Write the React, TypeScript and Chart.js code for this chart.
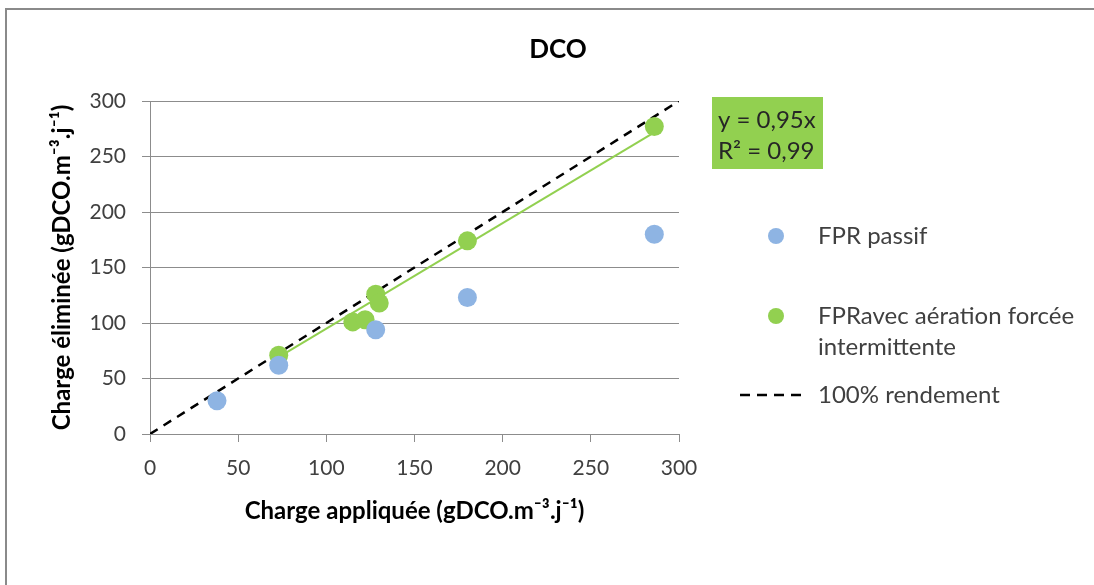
import React, { useEffect, useRef } from "react";
import { Chart, registerables } from "chart.js";

Chart.register(...registerables);

const passifX = [38, 73, 128, 180, 286];
const passifY = [30, 62, 94, 123, 180];
const aerationX = [73, 115, 122, 128, 130, 180, 286];
const aerationY = [71, 101, 103, 126, 118, 174, 277];
const trendSlope = 0.95;
const axisTicks = [0, 50, 100, 150, 200, 250, 300];
const chartTitle = "DCO";
const xTitle = "Charge appliquée (gDCO.m⁻³.j⁻¹)";
const yTitle = "Charge éliminée (gDCO.m⁻³.j⁻¹)";
const seriesNames = ["FPR passif", "FPRavec aération forcée", "intermittente", "100% rendement"];
const equationLines = ["y = 0,95x", "R² = 0,99"];

const FONT = "Lato, 'Open Sans', sans-serif";
const BLUE = "#8EB4E3";
const GREEN = "#92D050";
const TEXT = "#404040";

const decorPlugin = {
  id: "decor",
  beforeDraw(chart: any) {
    const ctx = chart.ctx;
    ctx.save();
    ctx.fillStyle = "#ffffff";
    ctx.fillRect(0, 0, chart.width, chart.height);
    ctx.strokeStyle = "#8a8a8a";
    ctx.lineWidth = 2;
    ctx.strokeRect(6, 9, chart.width + 20, chart.height + 20);
    ctx.restore();
  },
  afterDraw(chart: any) {
    const ctx = chart.ctx;
    ctx.save();
    // title
    ctx.fillStyle = "#000";
    ctx.font = `bold 26px ${FONT}`;
    ctx.textAlign = "center";
    ctx.textBaseline = "middle";
    ctx.fillText(chartTitle, 558, 50);

    // equation box
    ctx.fillStyle = GREEN;
    ctx.fillRect(712, 97, 111, 72);
    ctx.fillStyle = "#262626";
    ctx.font = `24px ${FONT}`;
    ctx.textAlign = "left";
    ctx.fillText(equationLines[0], 718, 120);
    ctx.fillText(equationLines[1], 718, 151);

    // legend
    ctx.font = `24px ${FONT}`;
    ctx.beginPath();
    ctx.arc(776, 236, 8, 0, Math.PI * 2);
    ctx.fillStyle = BLUE;
    ctx.fill();
    ctx.fillStyle = TEXT;
    ctx.fillText(seriesNames[0], 818, 236);

    ctx.beginPath();
    ctx.arc(776, 316, 8, 0, Math.PI * 2);
    ctx.fillStyle = GREEN;
    ctx.fill();
    ctx.fillStyle = TEXT;
    ctx.fillText(seriesNames[1], 818, 316);
    ctx.fillText(seriesNames[2], 818, 347);

    ctx.strokeStyle = "#000";
    ctx.lineWidth = 2.5;
    ctx.setLineDash([10, 7]);
    ctx.beginPath();
    ctx.moveTo(740, 395);
    ctx.lineTo(802, 395);
    ctx.stroke();
    ctx.setLineDash([]);
    ctx.fillText(seriesNames[3], 818, 395);
    ctx.restore();
  },
};

export default function App() {
  const ref = useRef<HTMLCanvasElement>(null);
  useEffect(() => {
    if (!ref.current) return;
    const xMin = Math.min(...aerationX);
    const xMax = Math.max(...aerationX);
    const chart = new Chart(ref.current, {
      type: "scatter",
      data: {
        datasets: [
          {
            label: seriesNames[0],
            data: passifX.map((x, i) => ({ x, y: passifY[i] })),
            backgroundColor: BLUE,
            borderColor: BLUE,
            pointRadius: 9.5,
            pointBorderWidth: 0,
            order: 0,
          },
          {
            label: seriesNames[1],
            data: aerationX.map((x, i) => ({ x, y: aerationY[i] })),
            backgroundColor: GREEN,
            borderColor: GREEN,
            pointRadius: 9.5,
            pointBorderWidth: 0,
            order: 0,
          },
          {
            type: "line",
            label: "trend",
            data: [
              { x: xMin, y: trendSlope * xMin },
              { x: xMax, y: trendSlope * xMax },
            ],
            borderColor: GREEN,
            borderWidth: 2,
            pointRadius: 0,
            showLine: true,
            order: 1,
          },
          {
            type: "line",
            label: seriesNames[3],
            data: [
              { x: axisTicks[0], y: axisTicks[0] },
              { x: axisTicks[axisTicks.length - 1], y: axisTicks[axisTicks.length - 1] },
            ],
            borderColor: "#000",
            borderWidth: 2.5,
            borderDash: [9, 7],
            pointRadius: 0,
            showLine: true,
            order: 2,
          },
        ] as any,
      },
      options: {
        animation: false,
        responsive: false,
        layout: { padding: { left: 40, right: 415, top: 101, bottom: 51 } },
        plugins: { legend: { display: false }, tooltip: { enabled: false }, title: { display: false } },
        scales: {
          x: {
            type: "linear",
            min: axisTicks[0],
            max: axisTicks[axisTicks.length - 1],
            afterBuildTicks: (s: any) => {
              s.ticks = axisTicks.map((v) => ({ value: v }));
            },
            afterFit: (s: any) => {
              s.height = 100;
            },
            grid: { drawOnChartArea: false, drawTicks: true, tickLength: 8, color: "#8c8c8c" },
            border: { color: "#8c8c8c", width: 1 },
            ticks: { color: TEXT, font: { family: FONT, size: 21 }, padding: 14, maxRotation: 0 },
            title: {
              display: true,
              text: xTitle,
              color: "#000",
              font: { family: FONT, size: 24, weight: "bold" },
              padding: { top: 0, bottom: 8 },
            },
          },
          y: {
            type: "linear",
            min: axisTicks[0],
            max: axisTicks[axisTicks.length - 1],
            afterBuildTicks: (s: any) => {
              s.ticks = axisTicks.map((v) => ({ value: v }));
            },
            afterFit: (s: any) => {
              s.width = 110;
            },
            grid: { drawTicks: true, tickLength: 8, color: "#8c8c8c" },
            border: { color: "#8c8c8c", width: 1 },
            ticks: { color: TEXT, font: { family: FONT, size: 21 }, padding: 16 },
            title: {
              display: true,
              text: yTitle,
              color: "#000",
              font: { family: FONT, size: 24, weight: "bold" },
              padding: { top: 8, bottom: 0 },
            },
          },
        },
      },
      plugins: [decorPlugin],
    });
    return () => chart.destroy();
  }, []);
  return (
    <div style={{ position: "fixed", left: 0, top: 0, width: 1094, height: 585, background: "#fff" }}>
      <canvas ref={ref} width={1094} height={585} style={{ display: "block" }} />
    </div>
  );
}
